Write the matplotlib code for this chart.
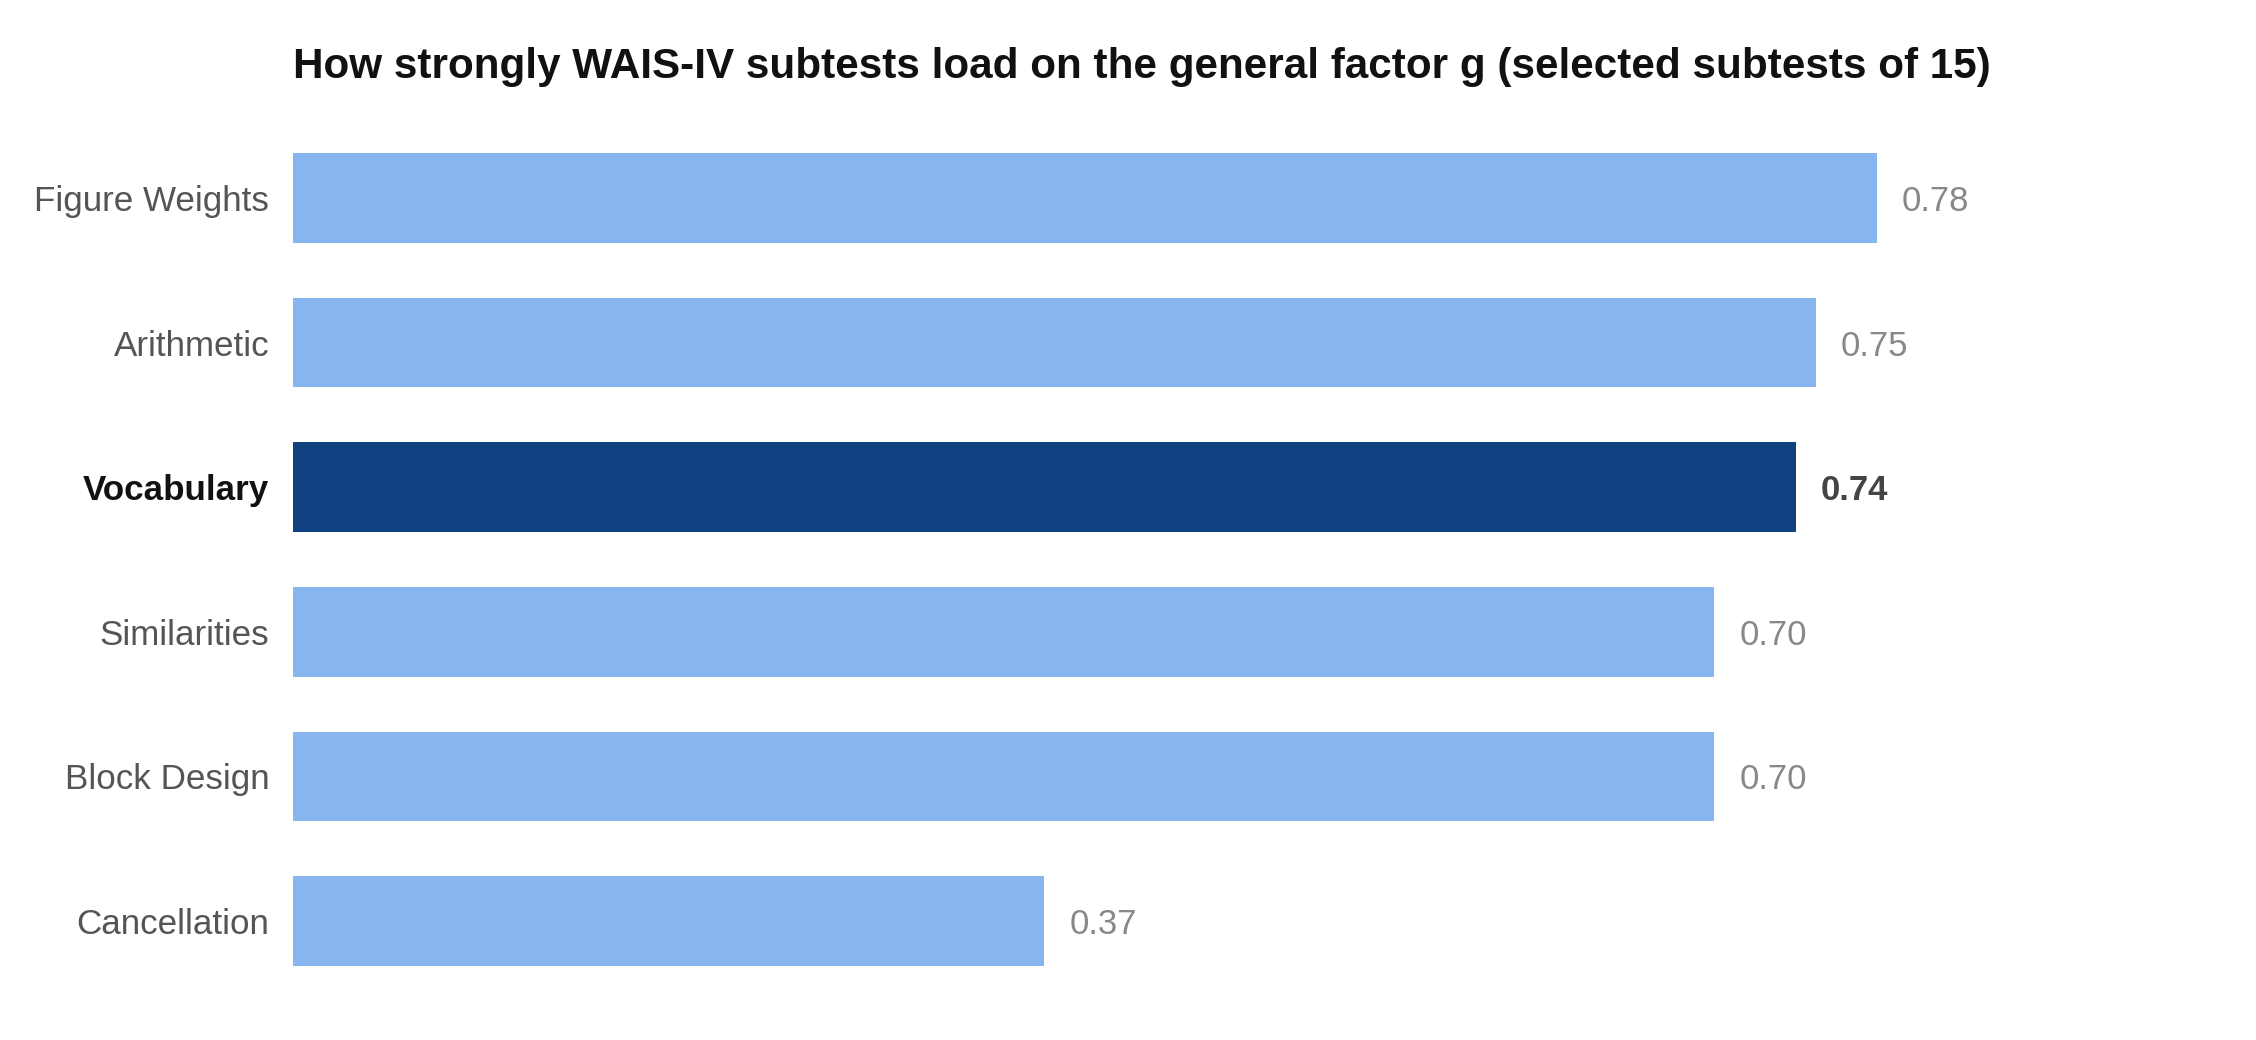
import matplotlib
matplotlib.use("Agg")
import matplotlib.pyplot as plt

plt.rcParams['font.family'] = ['Liberation Sans', 'DejaVu Sans']

subtests = ['Figure Weights', 'Arithmetic', 'Vocabulary', 'Similarities', 'Block Design', 'Cancellation']
loadings = [0.78, 0.75, 0.74, 0.70, 0.70, 0.37]
highlight = 'Vocabulary'

light = '#86B5EF'
dark = '#104181'

fig = plt.figure(figsize=(11.28, 5.2), dpi=200)
ax = fig.add_axes([0.1299, 0.045, 0.810, 0.834])

colors = [dark if s == highlight else light for s in subtests]
ypos = list(range(len(subtests)))
ax.barh(ypos, loadings, height=0.62, color=colors)

ax.set_xlim(0, 0.9)
ax.set_ylim(len(subtests) - 0.5, -0.5)

ax.set_yticks(ypos)
ax.set_yticklabels(subtests, fontsize=12.6, color='#555555')
ax.tick_params(axis='y', length=0, pad=8.6)
ax.set_xticks([])
for lbl in ax.get_yticklabels():
    if lbl.get_text() == highlight:
        lbl.set_fontweight('bold')
        lbl.set_color('#111111')

for s, y, v in zip(subtests, ypos, loadings):
    hl = s == highlight
    ax.annotate(f'{v:.2f}', xy=(v, y), xytext=(9, 0), textcoords='offset points',
                va='center_baseline', ha='left', fontsize=12.5,
                color='#444444' if hl else '#888888',
                fontweight='bold' if hl else 'normal')

for sp in ax.spines.values():
    sp.set_visible(False)

fig.text(0.1299, 0.925, 'How strongly WAIS-IV subtests load on the general factor g (selected subtests of 15)',
         fontsize=15.2, fontweight='bold', color='#111111', ha='left', va='baseline')

fig.savefig('out.png', dpi=200, facecolor='white')
